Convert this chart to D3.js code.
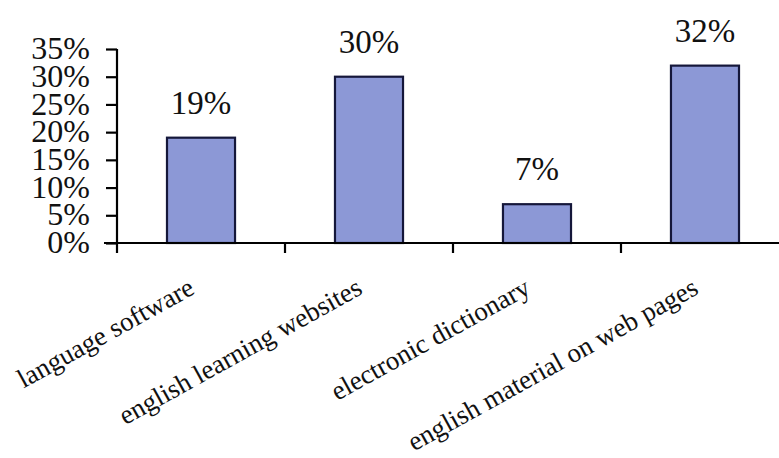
<!DOCTYPE html>
<html>
<head>
<meta charset="utf-8">
<script src="https://cdn.jsdelivr.net/npm/d3@7"></script>
<style>
  body { margin: 0; background: #fff; }
  svg { display: block; font-family: "Liberation Serif", "Times New Roman", serif; }
</style>
</head>
<body>
<div id="chart"></div>
<script>
// chart data
var categories = ["language software", "english learning websites", "electronic dictionary", "english material on web pages"];
var values = [19, 30, 7, 32];
var yTicks = [0, 5, 10, 15, 20, 25, 30, 35];

var width = 779;
var height = 458;

var x = d3.scaleBand()
  .domain(categories)
  .range([117, 789])
  .paddingInner(0.595)
  .paddingOuter(0.2976);

var y = d3.scaleLinear()
  .domain([0, 35])
  .range([243, 49]);

var svg = d3.select("#chart").append("svg")
  .attr("width", width)
  .attr("height", height);

// bars
svg.selectAll("rect.bar")
  .data(values)
  .enter()
  .append("rect")
  .attr("class", "bar")
  .attr("x", function(d, i){ return x(categories[i]) })
  .attr("y", function(d){ return y(d) })
  .attr("width", x.bandwidth())
  .attr("height", function(d){ return y(0) - y(d) })
  .attr("fill", "#8c98d6")
  .attr("stroke", "#15173a")
  .attr("stroke-width", 2.2);

// value labels
svg.selectAll("text.val")
  .data(values)
  .enter()
  .append("text")
  .attr("class", "val")
  .attr("x", function(d, i){ return x(categories[i]) + x.bandwidth() / 2 })
  .attr("y", function(d){ return y(d) - 24 })
  .attr("text-anchor", "middle")
  .attr("font-size", 33)
  .attr("fill", "#111")
  .text(function(d){ return d + "%" });

// y axis
var yAxis = d3.axisLeft(y)
  .tickValues(yTicks)
  .tickSize(11)
  .tickPadding(16)
  .tickFormat(function(d){ return d + "%" });

var gy = svg.append("g")
  .attr("transform", "translate(117,0)")
  .call(yAxis);
gy.select(".domain").attr("stroke", "#000").attr("stroke-width", 2.2)
  .attr("d", "M0," + y(35) + "V" + (y(0) + 10));
gy.selectAll(".tick line").attr("stroke", "#000").attr("stroke-width", 2.2);
gy.selectAll(".tick text")
  .attr("font-size", 32)
  .attr("font-family", "Liberation Serif, Times New Roman, serif")
  .attr("fill", "#111")
  .attr("dy", "0.3em");

// x axis line
svg.append("line")
  .attr("x1", 104).attr("x2", 790)
  .attr("y1", y(0)).attr("y2", y(0))
  .attr("stroke", "#000").attr("stroke-width", 2.2);

// category boundary ticks
var bounds = categories.map(function(c){ return x(c) + x.bandwidth() / 2 + x.step() / 2 });
svg.selectAll("line.xtick")
  .data(bounds)
  .enter()
  .append("line")
  .attr("class", "xtick")
  .attr("x1", function(d){ return d }).attr("x2", function(d){ return d })
  .attr("y1", y(0)).attr("y2", y(0) + 10)
  .attr("stroke", "#000").attr("stroke-width", 2.2);

// rotated category labels
svg.selectAll("text.cat")
  .data(categories)
  .enter()
  .append("text")
  .attr("class", "cat")
  .attr("text-anchor", "end")
  .attr("font-size", 27)
  .attr("fill", "#111")
  .attr("transform", function(d){
    return "translate(" + (x(d) + x.bandwidth() / 2 - 5) + ",293) rotate(-29)";
  })
  .text(function(d){ return d });
</script>
</body>
</html>
